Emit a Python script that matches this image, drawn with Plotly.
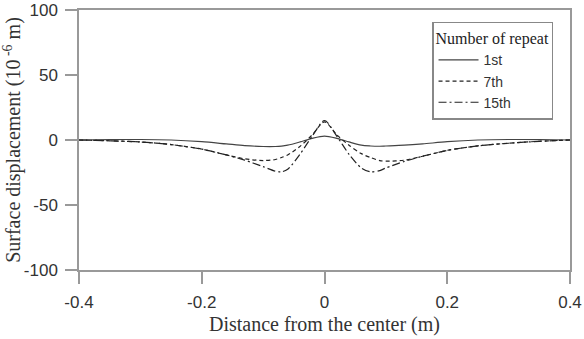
import plotly.graph_objects as go

# x positions (m)
x_pos = [-0.40, -0.35, -0.30, -0.25, -0.20, -0.16, -0.13, -0.10, -0.08, -0.07, -0.06, -0.04, -0.02, 0.00,
         0.02, 0.04, 0.06, 0.075, 0.09, 0.10, 0.13, 0.16, 0.20, 0.25, 0.30, 0.35, 0.40]

# Surface displacement (10^-6 m)
rep_1st = [0.0, 0.3, 0.4, 0.0, -1.3, -3.0, -4.3, -5.0, -5.0, -4.7, -4.0, -1.5, 1.3, 3.0,
           1.3, -1.5, -4.0, -4.6, -4.8, -4.6, -4.0, -3.0, -1.3, 0.0, 0.4, 0.3, 0.0]
rep_7th = [0.0, -0.6, -1.5, -3.5, -7.0, -11.5, -14.5, -15.8, -15.0, -13.5, -11.5, -5.0, 4.0, 14.0,
           4.0, -4.0, -10.5, -13.5, -15.8, -16.3, -15.5, -12.5, -8.0, -4.5, -2.5, -1.0, 0.0]
rep_15th = [0.0, -0.6, -1.5, -3.5, -7.0, -11.5, -15.5, -20.5, -24.0, -24.5, -22.5, -11.0, 3.0, 15.0,
            3.0, -11.0, -21.5, -24.5, -23.5, -21.5, -16.5, -12.5, -8.0, -4.5, -2.5, -1.0, 0.0]

series = [("1st", rep_1st, "solid", "#444444"),
          ("7th", rep_7th, "4px,3px", "#222222"),
          ("15th", rep_15th, "8px,3px,2px,3px", "#222222")]

fig = go.Figure()
for name, ys, dash, col in series:
    fig.add_trace(go.Scatter(x=x_pos, y=ys, mode="lines", name=name,
                             line=dict(color=col, width=1.2, dash=dash, shape="spline", smoothing=0.8)))

axis_common = dict(showline=True, linecolor="#999999", linewidth=1.5, mirror=True,
                   ticks="outside", ticklen=12, tickcolor="#999999", tickwidth=1.5,
                   showgrid=False, zeroline=False, automargin=False,
                   tickfont=dict(family="Liberation Sans, Arial", size=17, color="#333333"))

fig.update_layout(
    width=584, height=339,
    margin=dict(l=79, r=14, t=10, b=69),
    paper_bgcolor="white", plot_bgcolor="white",
    showlegend=True,
    legend=dict(x=0.719, y=0.954, xanchor="left", yanchor="top",
                bordercolor="#888888", borderwidth=1.5, bgcolor="white",
                title=dict(text="Number of repeat", font=dict(family="Liberation Serif", size=16, color="#222222")),
                font=dict(family="Liberation Sans, Arial", size=14, color="#333333"),
                itemwidth=40, tracegroupgap=0),
    xaxis=dict(range=[-0.4, 0.4], tickvals=[-0.4, -0.2, 0, 0.2, 0.4],
               ticktext=["-0.4", "-0.2", "0", "0.2", "0.4"], ticklabelstandoff=4,
               title=dict(text="Distance from the center (m)", standoff=6,
                          font=dict(family="Liberation Serif", size=20, color="#333333")),
               **axis_common),
    yaxis=dict(range=[-100, 100], tickvals=[-100, -50, 0, 50, 100],
               ticktext=["-100", "-50", "0", "50", "100"], ticklabelstandoff=4,
               title=dict(text="Surface displacement (10<sup> -6</sup> m)", standoff=11,
                          font=dict(family="Liberation Serif", size=20, color="#333333")),
               **axis_common),
)

fig.write_html("out.html")
